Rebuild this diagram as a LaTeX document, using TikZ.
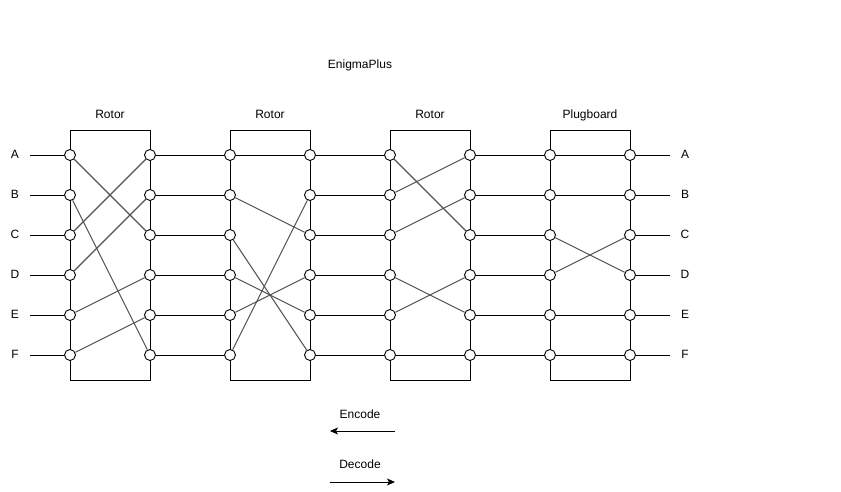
\documentclass[tikz,border=0pt]{standalone}
\usepackage{fontspec}
\setmainfont{Liberation Sans}
\usetikzlibrary{arrows.meta}
\begin{document}
\begin{tikzpicture}[x=1pt,y=-1pt,font=\fontsize{12}{14}\selectfont,
  pin/.style={circle,draw,fill=white,minimum size=11pt,inner sep=0pt,line width=0.9pt},
  boxnode/.style={draw,line width=0.9pt,minimum width=80pt,minimum height=250pt,inner sep=0pt,anchor=north west},
  wire/.style={line width=0.9pt},
  cross/.style={line width=1.1pt,draw=black!68},
  lbl/.style={inner sep=1pt,text height=8.6pt,text depth=2.5pt}]
\useasboundingbox (0,0) rectangle (841,491);
\node[lbl] (title) at (360,65) {EnigmaPlus};
\foreach \b/\x/\t in {1/70/Rotor,2/230/Rotor,3/390/Rotor,4/550/Plugboard}{
  \node[boxnode] (box\b) at (\x,130) {};
  \node[lbl] (title\b) at (\x+40,115) {\t};
}
\foreach \b/\x in {1/70,2/230,3/390,4/550}{
  \foreach \r in {1,...,6}{
    \node[pin] (L\b-\r) at (\x,115+40*\r) {};
    \node[pin] (R\b-\r) at (\x+80,115+40*\r) {};
  }
}
\foreach \r/\l in {1/A,2/B,3/C,4/D,5/E,6/F}{
  \node[lbl] (in\r) at (15,115+40*\r) {\l};
  \node[lbl] (out\r) at (685,115+40*\r) {\l};
  \coordinate (ls\r) at (30,115+40*\r);
  \coordinate (re\r) at (670,115+40*\r);
  \draw[wire] (ls\r) -- (L1-\r);
  \draw[wire] (R4-\r) -- (re\r);
  \draw[wire] (R1-\r) -- (L2-\r);
  \draw[wire] (R2-\r) -- (L3-\r);
  \draw[wire] (R3-\r) -- (L4-\r);
}
% internal diagonal wiring
\foreach \b/\f/\t in {1/1/3,1/2/6,1/3/1,1/4/2,1/5/4,1/6/5,
                      2/2/3,2/3/6,2/4/5,2/5/4,2/6/2,
                      3/1/3,3/2/1,3/3/2,3/4/5,3/5/4,
                      4/3/4,4/4/3}{
  \draw[cross] (L\b-\f) -- (R\b-\t);
}
% internal straight wiring
\foreach \b/\f in {2/1,3/6,4/1,4/2,4/5,4/6}{
  \draw[wire] (L\b-\f) -- (R\b-\f);
}
\node[lbl] (enc) at (360,415) {Encode};
\coordinate (encS) at (395,431);
\coordinate (encE) at (330,431);
\draw[wire,-{Stealth[length=8pt,width=7pt,inset=2pt]}] (encS) -- (encE);
\node[lbl] (dec) at (360,465) {Decode};
\coordinate (decS) at (330,482);
\coordinate (decE) at (395,482);
\draw[wire,-{Stealth[length=8pt,width=7pt,inset=2pt]}] (decS) -- (decE);
\end{tikzpicture}
\end{document}
